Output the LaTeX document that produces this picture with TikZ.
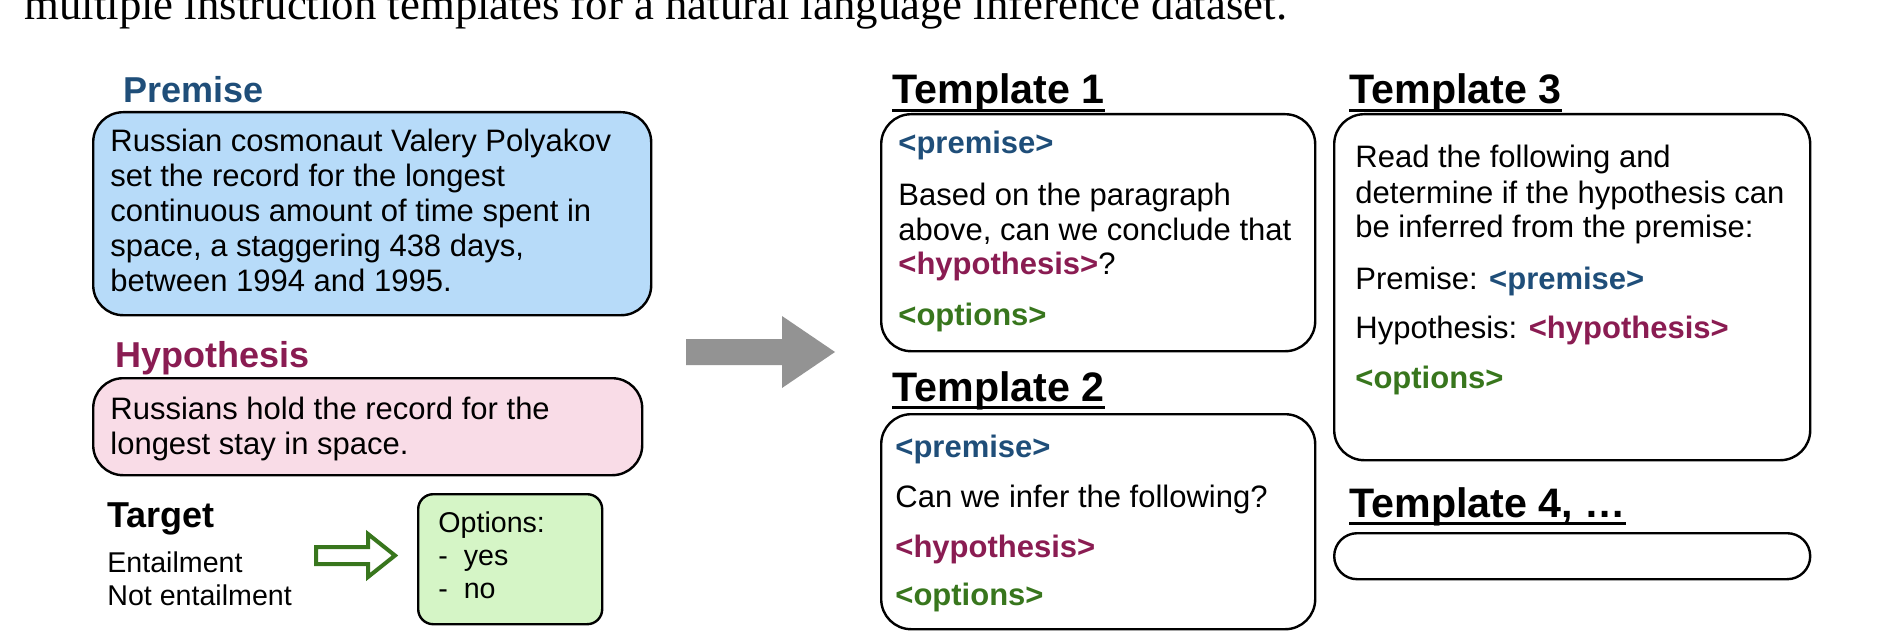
\documentclass[tikz,border=0pt]{standalone}
\usepackage{fontspec}
\setmainfont{Liberation Sans}
\newfontfamily\capfont{Liberation Serif}
\definecolor{premc}{HTML}{1F4E79}
\definecolor{hypc}{HTML}{8A1C52}
\definecolor{optc}{HTML}{38761D}
\definecolor{premfill}{HTML}{B7DBF9}
\definecolor{hypfill}{HTML}{F9DCE7}
\definecolor{optfill}{HTML}{D5F5C6}
\definecolor{arrowgray}{HTML}{939393}
\begin{document}
\begin{tikzpicture}[x=0.5pt,y=-0.5pt,
  box/.style={draw=black,line width=1.2pt,rounded corners=15pt,anchor=north west,inner sep=0pt},
  txt/.style={anchor=base west,inner sep=0pt,font=\fontsize{15.5}{17.5}\selectfont},
  tagp/.style={txt,font=\fontsize{15.5}{17.5}\selectfont\bfseries,text=premc},
  tagh/.style={txt,font=\fontsize{15.5}{17.5}\selectfont\bfseries,text=hypc},
  tago/.style={txt,font=\fontsize{15.5}{17.5}\selectfont\bfseries,text=optc},
  lbl/.style={anchor=base west,inner sep=0pt,font=\fontsize{18}{20}\selectfont\bfseries},
  thead/.style={anchor=base west,inner sep=0pt,font=\fontsize{20.6}{24}\selectfont\bfseries},
  small/.style={anchor=base west,inner sep=0pt,font=\fontsize{14.3}{16.5}\selectfont},
  uline/.style={line width=1.5pt},
]
\useasboundingbox (0,0) rectangle (1878,642);
\clip (0,0) rectangle (1878,642);

% caption fragment at the top (cut off by the picture's upper edge)
\node[anchor=base west,inner sep=0pt,font=\capfont\fontsize{22.4}{26}\selectfont] (cap) at (24,20)
  {multiple instruction templates for a natural language inference dataset.};

% ---------- left side ----------
\node[lbl,text=premc] (premlbl) at (123,103) {Premise};
\node[box,fill=premfill,minimum width=279pt,minimum height=101.5pt] (prembox) at (92,111) {};
\node[txt] (p1) at (110,151) {Russian cosmonaut Valery Polyakov};
\node[txt] (p2) at (110,186) {set the record for the longest};
\node[txt] (p3) at (110,221) {continuous amount of time spent in};
\node[txt] (p4) at (110,256) {space, a staggering 438 days,};
\node[txt] (p5) at (110,291) {between 1994 and 1995.};

\node[lbl,text=hypc] (hyplbl) at (115,367) {Hypothesis};
\node[box,fill=hypfill,minimum width=274.5pt,minimum height=48.5pt] (hypbox) at (92,377) {};
\node[txt] (h1) at (110,419) {Russians hold the record for the};
\node[txt] (h2) at (110,454) {longest stay in space.};

\node[lbl] (tgtlbl) at (107,527) {Target};
\node[small] (ent) at (107,572) {Entailment};
\node[small] (nent) at (107,605) {Not entailment};

\node[box,fill=optfill,rounded corners=7.5pt,minimum width=92pt,minimum height=65pt] (optbox) at (417,493) {};
\node[small] (o1) at (438,532) {Options:};
\node[small] (o2) at (438,565) {-\ \ yes};
\node[small] (o3) at (438,598) {-\ \ no};

% green hollow arrow
\draw[draw=optc,fill=white,line width=2pt,line join=miter]
  (316,547) -- (368,547) -- (368,534) -- (395,555.5) -- (368,577) -- (368,564) -- (316,564) -- cycle;

% gray block arrow
\fill[arrowgray] (686,339) -- (782,339) -- (782,316) -- (835,352) -- (782,388) -- (782,365) -- (686,365) -- cycle;

% ---------- Template 1 ----------
\node[thead] (t1h) at (892,104) {Template 1};
\draw[uline] ([yshift=-3.2pt]t1h.base west) -- ([yshift=-3.2pt]t1h.base east);
\node[box,minimum width=217pt,minimum height=118.5pt] (t1box) at (880,113) {};
\node[tagp] (t1a) at (898,154) {<premise>};
\node[txt] (t1b) at (898,205) {Based on the paragraph};
\node[txt] (t1c) at (898,240) {above, can we conclude that};
\node[txt] (t1d) at (898,274) {{\color{hypc}\bfseries <hypothesis>}?};
\node[tago] (t1e) at (898,325) {<options>};

% ---------- Template 2 ----------
\node[thead] (t2h) at (892,401) {Template 2};
\draw[uline] ([yshift=-3.2pt]t2h.base west) -- ([yshift=-3.2pt]t2h.base east);
\node[box,minimum width=217pt,minimum height=107.5pt] (t2box) at (880,413) {};
\node[tagp] (t2a) at (895,457) {<premise>};
\node[txt] (t2b) at (895,507) {Can we infer the following?};
\node[tagh] (t2c) at (895,557) {<hypothesis>};
\node[tago] (t2d) at (895,605) {<options>};

% ---------- Template 3 ----------
\node[thead] (t3h) at (1349,104) {Template 3};
\draw[uline] ([yshift=-3.2pt]t3h.base west) -- ([yshift=-3.2pt]t3h.base east);
\node[box,minimum width=238pt,minimum height=173pt] (t3box) at (1333,113) {};
\node[txt] (t3a) at (1355,168) {Read the following and};
\node[txt] (t3b) at (1355,203) {determine if the hypothesis can};
\node[txt] (t3c) at (1355,237) {be inferred from the premise:};
\node[txt] (t3d) at (1355,289) {Premise: {\color{premc}\bfseries <premise>}};
\node[txt] (t3e) at (1355,338) {Hypothesis: {\color{hypc}\bfseries <hypothesis>}};
\node[tago] (t3f) at (1355,388) {<options>};

% ---------- Template 4 ----------
\node[thead] (t4h) at (1349,517) {Template 4, …};
\draw[uline] ([yshift=-3.2pt]t4h.base west) -- ([yshift=-3.2pt]t4h.base east);
\node[box,rounded corners=11.5pt,minimum width=238pt,minimum height=23pt] (t4box) at (1333,532) {};
\end{tikzpicture}
\end{document}
